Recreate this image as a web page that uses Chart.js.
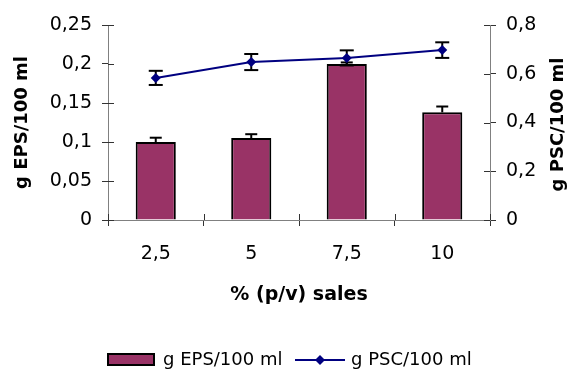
<!DOCTYPE html>
<html>
<head>
<meta charset="utf-8">
<script src="https://cdn.jsdelivr.net/npm/chart.js@4/dist/chart.umd.min.js"></script>
<style>
  html, body { margin: 0; padding: 0; background: #fff; }
  #wrap { width: 572px; height: 369px; position: relative; }
</style>
</head>
<body>
<div id="wrap"><canvas id="c" width="572" height="369"></canvas></div>
<script>
// Salt concentration on the x axis
const categories = ['2,5', '5', '7,5', '10'];

// EPS yield (left axis, bars) with upper error
const epsLabel = 'g EPS/100 ml';
const epsValues = [0.100, 0.105, 0.200, 0.138];
const epsErrors = [0.0055, 0.005, 0.002, 0.0075];

// PSC yield (right axis, line) with symmetric error
const pscLabel = 'g PSC/100 ml';
const pscValues = [0.583, 0.648, 0.665, 0.697];
const pscErrors = [0.029, 0.033, 0.031, 0.032];

// Tick labels (decimal comma)
const epsTicks = ['0', '0,05', '0,1', '0,15', '0,2', '0,25'];
const pscTicks = ['0', '0,2', '0,4', '0,6', '0,8'];

const xTitle = '% (p/v) sales';

const FONT = 'DejaVu Sans';
const BAR_FILL = '#993366';
const LINE_COLOR = '#000080';
const AXIS_COLOR = '#808080';
const TICK_COLOR = '#333333';

// Error bars drawn through the scales, after the bars and before the line
const errorBars = {
  id: 'errorBars',
  afterDatasetDraw(chart, args) {
    if (args.meta.type !== 'bar') return;
    const ctx = chart.ctx;
    const x = chart.scales.x, yL = chart.scales.y, yR = chart.scales.y1;
    ctx.save();
    ctx.strokeStyle = '#000';
    ctx.lineWidth = 2;
    const seg = (x1, y1, x2, y2) => { ctx.beginPath(); ctx.moveTo(x1, y1); ctx.lineTo(x2, y2); ctx.stroke(); };
    epsValues.forEach((v, i) => {
      const cx = x.getPixelForValue(i);
      const y0 = yL.getPixelForValue(v);
      const y1 = yL.getPixelForValue(v + epsErrors[i]);
      seg(cx, y0, cx, y1);
      seg(cx - 6, y1, cx + 6, y1);
    });
    pscValues.forEach((v, i) => {
      const cx = x.getPixelForValue(i);
      const yt = yR.getPixelForValue(v + pscErrors[i]);
      const yb = yR.getPixelForValue(v - pscErrors[i]);
      seg(cx, yt, cx, yb);
      seg(cx - 7, yt, cx + 7, yt);
      seg(cx - 7, yb, cx + 7, yb);
    });
    ctx.restore();
  }
};

// Inner halves of the cross-style tick marks, plus the right axis title (reads upward)
const crossTicks = {
  id: 'crossTicks',
  afterDraw(chart) {
    const ctx = chart.ctx;
    const {x, y, y1} = chart.scales;
    const area = chart.chartArea;
    ctx.save();
    ctx.strokeStyle = TICK_COLOR;
    ctx.lineWidth = 1;
    y.ticks.forEach(t => {
      const py = Math.round(y.getPixelForValue(t.value)) + 0.5;
      ctx.beginPath(); ctx.moveTo(area.left, py); ctx.lineTo(area.left + 6, py); ctx.stroke();
    });
    y1.ticks.forEach(t => {
      const py = Math.round(y1.getPixelForValue(t.value)) + 0.5;
      ctx.beginPath(); ctx.moveTo(area.right - 6, py); ctx.lineTo(area.right, py); ctx.stroke();
    });
    for (let i = 0; i <= categories.length; i++) {
      const px = Math.round(x.getPixelForValue(i - 0.5)) + 0.5;
      ctx.beginPath(); ctx.moveTo(px, area.bottom - 6); ctx.lineTo(px, area.bottom); ctx.stroke();
    }
    ctx.translate(558, (area.top + area.bottom) / 2 + 2);
    ctx.rotate(-Math.PI / 2);
    ctx.font = 'bold 18px "' + FONT + '"';
    ctx.fillStyle = '#000';
    ctx.textAlign = 'center';
    ctx.textBaseline = 'middle';
    ctx.fillText(chart.data.datasets[1].label, 0, 0);
    ctx.restore();
  }
};

// Legend: filled box for the bars, line with diamond for the line series
const legendBar = {
  id: 'legendBar',
  afterDraw(chart) {
    const ctx = chart.ctx;
    const ds = chart.data.datasets;
    const cy = 360;
    ctx.save();
    ctx.fillStyle = BAR_FILL;
    ctx.fillRect(108, 354, 46, 11);
    ctx.strokeStyle = '#000';
    ctx.lineWidth = 2;
    ctx.strokeRect(108, 354, 46, 11);
    ctx.font = '18px "' + FONT + '"';
    ctx.fillStyle = '#000';
    ctx.textBaseline = 'middle';
    ctx.textAlign = 'left';
    ctx.fillText(ds[0].label, 163, cy);
    ctx.strokeStyle = LINE_COLOR;
    ctx.lineWidth = 2;
    ctx.beginPath(); ctx.moveTo(295, cy); ctx.lineTo(345, cy); ctx.stroke();
    ctx.fillStyle = LINE_COLOR;
    ctx.beginPath();
    ctx.moveTo(320, cy - 5); ctx.lineTo(325, cy); ctx.lineTo(320, cy + 5); ctx.lineTo(315, cy);
    ctx.closePath(); ctx.fill();
    ctx.fillStyle = '#000';
    ctx.fillText(ds[1].label, 351, cy);
    ctx.restore();
  }
};

const tickFont = { family: FONT, size: 19 };
const titleFont = { family: FONT, size: 18, weight: 'bold' };

new Chart(document.getElementById('c'), {
  type: 'bar',
  data: {
    labels: categories,
    datasets: [
      {
        type: 'bar',
        label: epsLabel,
        data: epsValues,
        yAxisID: 'y',
        backgroundColor: BAR_FILL,
        borderColor: '#000',
        borderWidth: 2,
        categoryPercentage: 1,
        barPercentage: 0.42,
        order: 1
      },
      {
        type: 'line',
        label: pscLabel,
        data: pscValues,
        yAxisID: 'y1',
        borderColor: LINE_COLOR,
        backgroundColor: LINE_COLOR,
        borderWidth: 2,
        pointStyle: 'rectRot',
        pointRadius: 5,
        pointBorderWidth: 0,
        tension: 0,
        order: 0
      }
    ]
  },
  options: {
    responsive: false,
    animation: false,
    devicePixelRatio: 1,
    layout: { padding: { top: 25, left: 0, right: 0, bottom: 0 } },
    plugins: { legend: { display: false }, tooltip: { enabled: false } },
    scales: {
      x: {
        offset: true,
        grid: { display: true, drawOnChartArea: false, drawTicks: true, tickLength: 6, color: TICK_COLOR, offset: true },
        border: { display: true, color: AXIS_COLOR, width: 1 },
        ticks: { font: tickFont, color: '#000', padding: 17, maxRotation: 0 },
        title: { display: true, text: xTitle, font: { family: FONT, size: 19, weight: 'bold' }, color: '#000', padding: { top: 0, bottom: 63 } },
        afterFit(s) { s.height = 149; }
      },
      y: {
        position: 'left',
        min: 0, max: 0.25,
        ticks: {
          stepSize: 0.05, font: tickFont, color: '#000', padding: 10,
          callback: (v) => epsTicks[Math.round(v / 0.05)]
        },
        grid: { display: true, drawOnChartArea: false, drawTicks: true, tickLength: 6, color: TICK_COLOR },
        border: { display: true, color: AXIS_COLOR, width: 1 },
        title: { display: true, text: epsLabel, font: titleFont, color: '#000', padding: { top: 12, bottom: 0 } },
        afterFit(s) { s.width = 108; }
      },
      y1: {
        position: 'right',
        min: 0, max: 0.8,
        ticks: {
          stepSize: 0.2, font: tickFont, color: '#000', padding: 10,
          callback: (v) => pscTicks[Math.round(v / 0.2)]
        },
        grid: { display: true, drawOnChartArea: false, drawTicks: true, tickLength: 6, color: TICK_COLOR },
        border: { display: true, color: AXIS_COLOR, width: 1 },
        title: { display: false, text: pscLabel },
        afterFit(s) { s.width = 82; }
      }
    }
  },
  plugins: [errorBars, crossTicks, legendBar]
});
</script>
</body>
</html>
